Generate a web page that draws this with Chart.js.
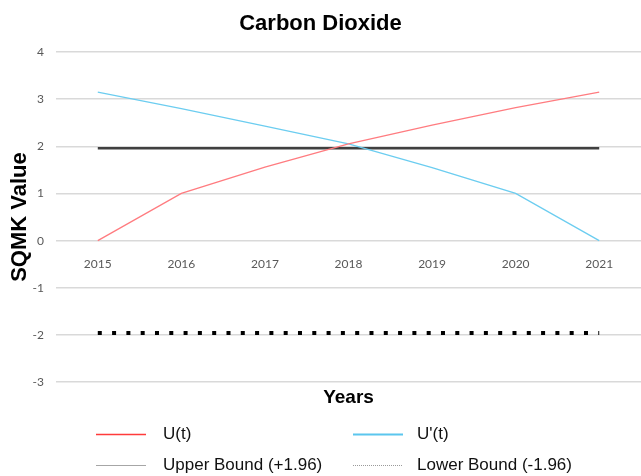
<!DOCTYPE html>
<html>
<head>
<meta charset="utf-8">
<script src="https://cdn.jsdelivr.net/npm/chart.js@4.4.1/dist/chart.umd.min.js"></script>
<style>
  html, body { margin: 0; padding: 0; background: #fff; }
  #wrap { width: 641px; height: 476px; }
</style>
</head>
<body>
<div id="wrap"><canvas id="co2"></canvas></div>
<script>
// data
const years = ['2015', '2016', '2017', '2018', '2019', '2020', '2021'];
const uForward = [0, 1.0, 1.56, 2.05, 2.45, 2.82, 3.15];
const uBackward = [3.15, 2.80, 2.43, 2.05, 1.55, 1.0, 0];
const upperBound = [1.96, 1.96, 1.96, 1.96, 1.96, 1.96, 1.96];
const lowerBound = [-1.96, -1.96, -1.96, -1.96, -1.96, -1.96, -1.96];

// legend sample styles (the legend is laid out as a 2x2 grid)
const legendLook = [
    { color: '#ff3b3b', width: 1.5, dash: [] },
    { color: '#5bc6ee', width: 2, dash: [] },
    { color: '#a6a6a6', width: 1, dash: [] },
    { color: '#9a9a9a', width: 1, dash: [1, 1] }
];

const gridLegend = {
    id: 'gridLegend',
    afterDraw(chart) {
        const c = chart.ctx;
        const colX = [96, 353];
        const textX = [163, 417];
        const rowY = [434, 465];
        c.save();
        chart.data.datasets.forEach((ds, i) => {
            const col = i % 2, row = Math.floor(i / 2);
            const look = legendLook[i];
            c.beginPath();
            c.setLineDash(look.dash);
            c.strokeStyle = look.color;
            c.lineWidth = look.width;
            c.moveTo(colX[col], rowY[row] + 0.5);
            c.lineTo(colX[col] + 50, rowY[row] + 0.5);
            c.stroke();
            c.setLineDash([]);
            c.fillStyle = '#111';
            c.font = '17px "Liberation Sans", Arial, sans-serif';
            c.textBaseline = 'middle';
            c.textAlign = 'left';
            c.fillText(ds.label, textX[col], rowY[row]);
        });
        c.restore();
    }
};

const ctx = document.getElementById('co2');
new Chart(ctx, {
    type: 'line',
    data: {
        labels: years,
        datasets: [{
            label: 'U(t)',
            data: uForward,
            borderColor: '#ff7c80',
            borderWidth: 1.3,
            pointRadius: 0,
            tension: 0
        }, {
            label: "U'(t)",
            data: uBackward,
            borderColor: '#6ccdf0',
            borderWidth: 1.3,
            pointRadius: 0,
            tension: 0
        }, {
            label: 'Upper Bound (+1.96)',
            data: upperBound,
            borderColor: '#404040',
            borderWidth: 2.5,
            pointRadius: 0
        }, {
            label: 'Lower Bound (-1.96)',
            data: lowerBound,
            borderColor: '#000000',
            borderWidth: 4,
            borderDash: [4, 10.3],
            pointRadius: 0
        }]
    },
    options: {
        responsive: true,
        maintainAspectRatio: false,
        animation: false,
        layout: { padding: { left: 0, right: 0, top: 0, bottom: 66.6 } },
        plugins: {
            legend: { display: false },
            tooltip: { enabled: false },
            title: {
                display: true,
                text: 'Carbon Dioxide',
                color: '#000',
                font: { family: '"Liberation Sans", Arial, sans-serif', size: 22, weight: 'bold' },
                padding: { top: 11, bottom: 14.6 }
            }
        },
        scales: {
            x: {
                type: 'category',
                offset: true,
                position: { y: 0 },
                grid: { display: false },
                border: { display: false },
                ticks: {
                    color: '#595959',
                    font: { family: 'Lato, "Open Sans", sans-serif', size: 12 },
                    padding: 8,
                    maxRotation: 0
                }
            },
            x2: {
                type: 'category',
                position: 'bottom',
                grid: { display: false, drawTicks: false },
                border: { display: false },
                ticks: { display: false },
                title: {
                    display: true,
                    text: 'Years',
                    color: '#000',
                    font: { family: '"Liberation Sans", Arial, sans-serif', size: 19, weight: 'bold' },
                    padding: { top: 4.5, bottom: 0 }
                }
            },
            y: {
                min: -3,
                max: 4,
                afterFit(scale) { scale.width = 56; },
                ticks: {
                    stepSize: 1,
                    color: '#595959',
                    font: { family: 'Lato, "Open Sans", sans-serif', size: 12 },
                    padding: 12
                },
                grid: { color: '#d9d9d9', lineWidth: 1.5, drawTicks: false },
                border: { display: false },
                title: {
                    display: true,
                    text: 'SQMK Value',
                    color: '#000',
                    font: { family: '"Liberation Sans", Arial, sans-serif', size: 22, weight: 'bold' },
                    padding: { top: 7, bottom: 0 }
                }
            }
        }
    },
    plugins: [gridLegend]
});
</script>
</body>
</html>
